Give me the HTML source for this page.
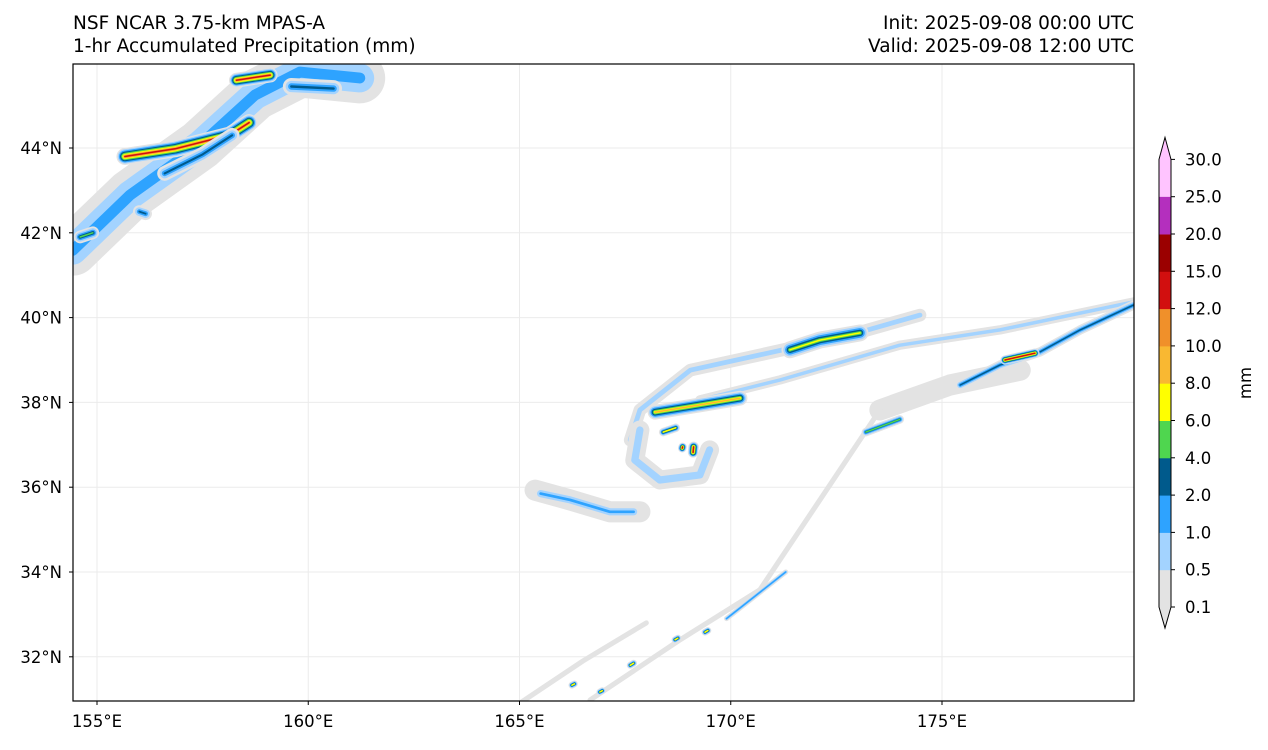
<!DOCTYPE html>
<html><head><meta charset="utf-8"><style>
body{margin:0;background:#fff;font-family:"Liberation Sans","DejaVu Sans",sans-serif}
svg text{font-family:"DejaVu Sans","Liberation Sans",sans-serif;font-size:16.5px;fill:#000}
svg text.ttl{font-size:18.5px}
</style></head><body>
<svg id="c" width="1268" height="745">
<text class="ttl" x="73" y="29">NSF NCAR 3.75-km MPAS-A</text>
<text class="ttl" x="73" y="52">1-hr Accumulated Precipitation (mm)</text>
<text class="ttl" x="1134" y="29" text-anchor="end">Init: 2025-09-08 00:00 UTC</text>
<text class="ttl" x="1134" y="52" text-anchor="end">Valid: 2025-09-08 12:00 UTC</text>
<defs><clipPath id="pc"><rect x="73" y="64" width="1061" height="637"/></clipPath></defs>
<g id="grid"></g>
<g id="fields" clip-path="url(#pc)"></g>
<rect x="73" y="64" width="1061" height="637" fill="none" stroke="#000" stroke-width="1.2"/>
<g id="axes"></g>
<g id="cbar"></g>
</svg>
<script>
const lonTicks=[155,160,165,170,175];
const latTicks=[32,34,36,38,40,42,44];
const levels=[0.1,0.5,1.0,2.0,4.0,6.0,8.0,10.0,12.0,15.0,20.0,25.0,30.0];
const levelColors=["#e3e3e3","#a3d3ff","#2ea3ff","#005a8c","#4fd64f","#ffff00","#f9b832","#f0902a","#d20f0f","#9b0000","#b42fbe","#ffc4ff"];
const featPaths=[
 [[154.43,41.59],[155.78,42.89],[157.44,44.07],[158.74,45.25],[159.8,45.79],[161.22,45.65]],
 [[155.66,43.8],[156.85,43.98],[158.15,44.31],[158.6,44.6]],
 [[158.3,45.6],[159.1,45.72]],
 [[156.0,42.5],[156.15,42.45]],
 [[154.6,41.9],[154.9,42.0]],
 [[167.62,37.11],[167.85,37.82],[169.04,38.76],[170.69,39.12],[172.82,39.59],[174.48,40.06]],
 [[171.4,39.24],[172.11,39.47],[173.06,39.64]],
 [[169.27,38.06],[171.17,38.53],[174.0,39.35],[176.37,39.71],[179.54,40.37]],
 [[173.53,37.82],[175.19,38.41],[176.85,38.76]],
 [[175.43,38.41],[176.37,38.88],[177.32,39.19],[178.27,39.71],[179.54,40.3]],
 [[176.49,39.0],[177.2,39.16]],
 [[167.85,37.35],[167.73,36.64],[168.32,36.17],[169.27,36.29],[169.5,36.88]],
 [[168.21,37.77],[169.27,37.94],[170.22,38.1]],
 [[168.85,36.92],[168.86,36.95]],
 [[169.11,36.82],[169.12,36.95]],
 [[168.4,37.3],[168.7,37.4]],
 [[165.37,35.93],[166.2,35.7],[167.14,35.42],[167.85,35.42]],
 [[165.5,35.85],[166.2,35.7],[167.14,35.42],[167.7,35.42]],
 [[166.67,30.98],[168.8,32.4],[170.69,33.58],[172.11,35.7],[173.53,37.82]],
 [[169.9,32.9],[171.3,34.0]],
 [[166.24,31.33],[166.3,31.36]],
 [[166.9,31.17],[166.96,31.2]],
 [[167.62,31.8],[167.7,31.85]],
 [[168.68,32.4],[168.75,32.44]],
 [[169.39,32.58],[169.46,32.62]],
 [[173.2,37.3],[174.0,37.6]],
 [[165.0,30.9],[166.5,31.9],[168.0,32.8]],
 [[159.6,45.45],[160.6,45.4]],
 [[156.6,43.4],[157.5,43.85],[158.2,44.3]]
];
const featPeak=[2,8,8,3,4,1,5,1,0,3,8,1,6,8,8,5,0,2,0,2,5,5,5,5,5,4,0,3,3];
const featWidth=[1.2,0.4,0.35,0.3,0.3,0.3,0.4,0.22,0.5,0.22,0.22,0.45,0.35,0.2,0.25,0.2,0.5,0.3,0.12,0.12,0.16,0.16,0.16,0.16,0.16,0.2,0.12,0.4,0.35];

const X=lon=>97+(lon-155)*42.25;
const Y=lat=>148+(44-lat)*42.4;
const NS="http://www.w3.org/2000/svg";
function mk(t,a,p){const e=document.createElementNS(NS,t);for(const k in a)e.setAttribute(k,a[k]);p.appendChild(e);return e;}
const gridG=document.getElementById('grid'),axesG=document.getElementById('axes'),fieldsG=document.getElementById('fields'),cbarG=document.getElementById('cbar');
lonTicks.forEach(l=>{
 const g=mk('line',{x1:X(l),x2:X(l),y1:64,y2:701,stroke:'#ebebeb','stroke-width':1},gridG);
 
 
 mk('line',{x1:X(l),x2:X(l),y1:701,y2:705,stroke:'#000'},axesG);
 const t=mk('text',{x:X(l),y:727,'text-anchor':'middle'},axesG);t.textContent=l+'°E';
 
 
});
latTicks.forEach(l=>{
 const g=mk('line',{x1:73,x2:1134,y1:Y(l),y2:Y(l),stroke:'#ebebeb','stroke-width':1},gridG);
 
 
 mk('line',{x1:69,x2:73,y1:Y(l),y2:Y(l),stroke:'#000'},axesG);
 const t=mk('text',{x:62,y:Y(l)+6,'text-anchor':'end'},axesG);t.textContent=l+'°N';
 
 
});
featPaths.forEach((p,i)=>{
 const d=p.map((q,j)=>(j?'L':'M')+X(q[0]).toFixed(1)+' '+Y(q[1]).toFixed(1)).join(' ');
 const peak=featPeak[i],w=featWidth[i]*42.3;
 for(let k=0;k<=peak;k++){
  const wk=Math.max(1.5,w*Math.pow(1-k/(peak+1),1.4));
  const e=mk('path',{d:d,fill:'none',stroke:levelColors[k],'stroke-width':wk.toFixed(1),'stroke-linecap':'round','stroke-linejoin':'round'},fieldsG);
  
  
 }
});
const cbx=1159,cbw=12,cstep=37.3;
const cy=v=>607-levels.indexOf(v)*cstep;
for(let i=0;i<levelColors.length;i++){
 const y1=607-(i+1)*cstep,y0=607-i*cstep;
 let e;
 if(i===levelColors.length-1) e=mk('path',{d:`M${cbx} ${y0} L${cbx} ${y1} L${cbx+cbw/2} ${y1-22} L${cbx+cbw} ${y1} L${cbx+cbw} ${y0}Z`,fill:levelColors[i]},cbarG);
 else e=mk('rect',{x:cbx,y:y1,width:cbw,height:cstep+0.5,fill:levelColors[i]},cbarG);
 
 
}
const lo=mk('path',{d:`M${cbx} 607 L${cbx+cbw/2} 628 L${cbx+cbw} 607Z`,fill:levelColors[0]},cbarG);


const topY=607-12*cstep;
const ol=mk('path',{d:`M${cbx} 607 L${cbx+cbw/2} 628 L${cbx+cbw} 607 L${cbx+cbw} ${topY} L${cbx+cbw/2} ${topY-22} L${cbx} ${topY}Z`,fill:'none',stroke:'#000','stroke-width':1},cbarG);


levels.forEach(v=>{
 const y=cy(v);
 mk('line',{x1:cbx+cbw,x2:cbx+cbw+4,y1:y,y2:y,stroke:'#000'},cbarG);
 const t=mk('text',{x:1185,y:y+6},cbarG);t.textContent=v.toFixed(1);
 
 
});
const u=mk('text',{x:1251,y:383,'text-anchor':'middle',transform:'rotate(-90 1251 383)'},cbarG);u.textContent='mm';


</script>
</body></html>
